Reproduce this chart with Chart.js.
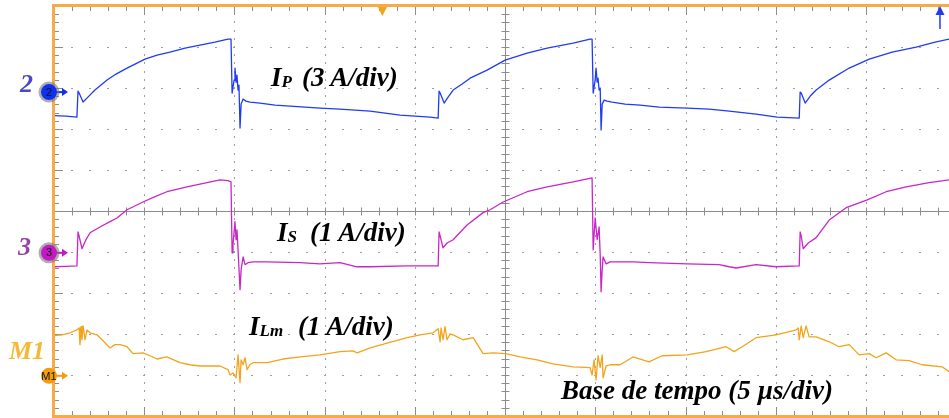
<!DOCTYPE html>
<html>
<head>
<meta charset="utf-8">
<script src="https://cdn.jsdelivr.net/npm/chart.js@4.4.1/dist/chart.umd.min.js"></script>
<style>
  html, body { margin: 0; padding: 0; background: #fff; overflow: hidden; }
  #scope { position: relative; width: 949px; height: 418px; }
  #scope canvas, #scope svg { position: absolute; left: 0; top: 0; }
  .lbl { font-family: "Liberation Serif", "Times New Roman", serif; font-weight: bold; font-style: italic; }
  .chip { font-family: "Liberation Sans", Arial, sans-serif; font-size: 11px; fill: #111; }
</style>
</head>
<body>
<div id="scope">
  <canvas id="wave" width="949" height="418"></canvas>
  <svg width="949" height="418" xmlns="http://www.w3.org/2000/svg">
    <!-- channel names on the left -->
    <text class="lbl" x="20" y="92" font-size="26" fill="#4a48c8">2</text>
    <text class="lbl" x="18" y="255" font-size="26" fill="#9444a6">3</text>
    <text class="lbl" x="9" y="359" font-size="26" fill="#f5b935">M1</text>
    <!-- ground marker captions -->
    <text class="chip" x="49" y="96" text-anchor="middle">2</text>
    <text class="chip" x="49" y="256" text-anchor="middle">3</text>
    <text class="chip" x="49" y="379.5" text-anchor="middle" font-size="10">M1</text>
    <!-- trace annotations -->
    <text class="lbl" x="271" y="86" font-size="27" fill="#000">I<tspan font-size="17" dy="1">P</tspan><tspan x="302" dy="-1">(3 A/div)</tspan></text>
    <text class="lbl" x="277" y="241" font-size="27" fill="#000">I<tspan font-size="17" dy="1">S</tspan><tspan x="310" dy="-1">(1 A/div)</tspan></text>
    <text class="lbl" x="249" y="335" font-size="27" fill="#000">I<tspan font-size="17" dy="1">Lm</tspan><tspan x="298" dy="-1">(1 A/div)</tspan></text>
    <text class="lbl" x="561" y="399" font-size="27" fill="#000">Base de tempo (5 µs/div)</text>
  </svg>
</div>
<script>
// time base: 5 us/div, screen shows a bit under 10 divisions
const xMax = 49.6;
const triggerTime = 18.2;

// channel 2: primary current I_P, 3 A/div
const ipOffset = 2.9;
const ipPerDiv = 3;
const ipTime = [
  0.00, 0.67, 1.27, 1.33, 1.39, 1.61, 1.88, 2.27, 2.94, 3.44, 3.94, 4.49, 5.04, 5.71, 6.43,
  7.26, 8.09, 8.92, 9.64, 9.81, 9.87, 9.98, 10.03, 10.09, 10.14, 10.20, 10.25, 10.31, 10.37,
  10.48, 10.64, 10.86, 11.42, 12.25, 13.08, 13.91, 14.74, 15.85, 16.68, 17.52, 18.35, 19.18,
  20.01, 20.84, 21.29,
  21.34, 21.40, 21.62, 21.84, 22.12, 22.62, 23.06, 24.00, 25.00, 26.22, 27.33, 28.77, 29.71,
  29.82, 29.88, 29.99, 30.04, 30.10, 30.15, 30.21, 30.27, 30.32, 30.38, 30.49, 30.65, 30.93,
  31.65, 32.48, 33.54, 35.09, 36.31, 37.42, 38.91, 40.08, 41.30,
  41.35, 41.41, 41.63, 41.91, 42.24, 42.96, 44.07, 45.18, 46.45, 47.78, 48.83, 49.61
];
const ipAmps = [
  -1.72, -1.76, -1.83, 0.07, -0.07, -0.73, -0.37, 0.15, 0.88, 1.32, 1.68, 2.05, 2.41, 2.71, 2.93,
  3.22, 3.44, 3.66, 3.88, 3.88, -0.07, 0.88, 1.76, 0.73, 1.24, 0.15, 0.51, -2.63, -0.88,
  -0.51, -0.66, -0.73, -0.80, -0.95, -1.02, -1.10, -1.17, -1.24, -1.32, -1.39, -1.54, -1.68,
  -1.76, -1.83, -1.90,
  0.07, -0.07, -0.80, -0.37, 0.15, 0.59, 1.02, 1.61, 2.34, 2.85, 3.22, 3.59, 3.88,
  3.88, -0.07, 0.88, 1.76, 0.73, 1.02, 0.15, 0.29, -2.78, -0.88, -0.59, -0.66, -0.73,
  -0.88, -0.95, -1.10, -1.17, -1.24, -1.39, -1.61, -1.83, -1.90,
  0.00, -0.07, -0.80, -0.29, 0.15, 0.88, 1.76, 2.41, 2.93, 3.29, 3.66, 3.88
];

// channel 3: secondary current I_S, 1 A/div
const isOffset = -1.02;
const isPerDiv = 1;
const isTime = [
  0.00, 0.67, 1.27, 1.33, 1.39, 1.55, 1.77, 2.00, 2.55, 3.10, 3.49, 4.05, 4.93, 5.60, 6.26,
  7.37, 8.48, 9.20, 9.64, 9.81, 9.87, 9.92, 10.03, 10.09, 10.14, 10.20, 10.31, 10.37, 10.48,
  10.59, 10.75, 11.03, 11.80, 13.63, 14.74, 15.85, 16.79, 17.52, 19.57, 21.29,
  21.34, 21.40, 21.56, 21.78, 22.12, 22.89, 23.78, 24.17, 24.89, 26.22, 27.33, 28.77, 29.82,
  29.88, 29.99, 30.10, 30.21, 30.27, 30.32, 30.38, 30.43, 30.60, 30.82, 32.10, 32.98, 35.09,
  36.86, 37.42, 37.80, 38.91, 40.02, 41.30,
  41.35, 41.41, 41.52, 41.80, 42.24, 42.96, 43.90, 45.07, 46.12, 47.23, 48.50, 49.61
];
const isAmps = [
  -0.34, -0.33, -0.32, 0.51, 0.41, 0.10, 0.32, 0.49, 0.63, 0.76, 0.85, 1.05, 1.24, 1.37, 1.49,
  1.61, 1.71, 1.78, 1.76, 1.73, 0.00, 0.20, 0.76, 0.32, 0.56, 0.07, -0.90, -0.41, -0.10,
  -0.29, -0.24, -0.22, -0.22, -0.24, -0.27, -0.24, -0.34, -0.34, -0.32, -0.32,
  0.51, 0.41, 0.12, 0.24, 0.32, 0.68, 0.98, 1.05, 1.24, 1.49, 1.61, 1.73, 1.83,
  0.07, 0.85, 0.32, 0.63, -0.05, -0.95, -0.41, -0.10, -0.27, -0.22, -0.22, -0.24, -0.27,
  -0.29, -0.34, -0.37, -0.29, -0.34, -0.32,
  0.51, 0.41, 0.10, 0.24, 0.37, 0.80, 1.10, 1.29, 1.49, 1.61, 1.71, 1.78
];

// math channel M1: magnetizing current I_Lm, 1 A/div
const lmOffset = -4.02;
const lmPerDiv = 1;
const lmTime = [
  0.00, 0.44, 0.89, 1.27, 1.39, 1.44, 1.50, 1.55, 1.61, 1.72, 1.83, 2.00, 2.38, 2.77, 3.10,
  3.38, 3.66, 4.05, 4.38, 4.93, 5.32, 5.71, 6.26, 6.98, 7.54, 8.09, 9.20, 9.64, 9.76, 9.92,
  10.09, 10.20, 10.31, 10.37, 10.48, 10.59, 10.70, 10.86, 11.03, 11.81, 12.69, 13.64, 14.74,
  15.85, 16.57, 16.80, 17.52, 18.46, 19.57, 20.29, 21.01, 21.29, 21.40, 21.45, 21.56, 21.67,
  21.78, 21.95, 22.12, 22.67, 23.23, 23.78, 24.33, 25.05, 25.83, 26.77, 27.66, 28.77, 29.71,
  29.82, 29.93, 30.04, 30.15, 30.27, 30.38, 30.43, 30.60, 30.82, 31.37, 32.09, 32.48, 32.98,
  33.70, 35.09, 36.14, 37.25, 37.69, 38.14, 38.91, 40.02, 41.13, 41.24, 41.30, 41.41, 41.52,
  41.68, 41.85, 42.24, 42.96, 43.51, 44.07, 44.62, 45.18, 45.56, 46.12, 46.67, 47.39, 48.11,
  49.22, 49.61
];
const lmAmps = [
  0.98, 1.00, 1.05, 1.12, 1.17, 0.76, 1.20, 0.88, 1.22, 0.88, 1.12, 1.05, 1.00, 0.83, 0.68,
  0.76, 0.76, 0.71, 0.54, 0.56, 0.49, 0.41, 0.46, 0.32, 0.27, 0.24, 0.24, 0.15, 0.02, 0.07,
  -0.05, 0.51, -0.17, 0.39, 0.27, 0.44, 0.15, 0.27, 0.32, 0.32, 0.41, 0.46, 0.51,
  0.59, 0.61, 0.56, 0.68, 0.80, 0.93, 1.00, 1.05, 1.15, 0.83, 1.17, 0.88, 1.20,
  0.88, 1.02, 1.00, 0.88, 0.93, 0.54, 0.56, 0.54, 0.46, 0.39, 0.29, 0.22, 0.20,
  0.02, 0.39, -0.10, 0.49, 0.20, 0.51, -0.05, 0.24, 0.27, 0.27, 0.46, 0.41, 0.34,
  0.49, 0.51, 0.59, 0.71, 0.59, 0.71, 0.93, 1.00, 1.12, 1.17, 0.88, 1.22, 0.93,
  1.22, 0.95, 0.95, 0.83, 0.71, 0.76, 0.51, 0.54, 0.44, 0.56, 0.39, 0.37, 0.27,
  0.22, 0.10
];

const ipColor = "#1f3cf2";
const isColor = "#c826c8";
const lmColor = "#f2a41c";
const frameColor = "#f6ab46";

function trace(times, amps, offset, perDiv) {
  return times.map((t, i) => ({ x: t, y: offset + amps[i] / perDiv }));
}

function line(ctx, x1, y1, x2, y2) {
  ctx.beginPath();
  ctx.moveTo(x1, y1);
  ctx.lineTo(x2, y2);
  ctx.stroke();
}

// graticule: dotted divisions, centre cross with ticks, ticks on the frame
const graticule = {
  id: "graticule",
  beforeDatasetsDraw(chart) {
    const { ctx, chartArea: a, scales: { x, y } } = chart;
    ctx.save();
    ctx.fillStyle = "#9e9e9e";
    for (let t = 5; t < xMax; t += 5) {
      if (t === 25) continue;
      const px = Math.round(x.getPixelForValue(t));
      for (let k = 1; k < 50; k++) {
        const py = Math.round(y.getPixelForValue(-5 + k * 0.2));
        ctx.fillRect(px, py - 1, 1, 2);
      }
    }
    for (let d = -4; d <= 4; d++) {
      if (d === 0) continue;
      const py = Math.round(y.getPixelForValue(d));
      for (let t = 1; t < xMax; t++) {
        const px = Math.round(x.getPixelForValue(t));
        ctx.fillRect(px - 1, py, 2, 1);
      }
    }

    const cx = Math.round(x.getPixelForValue(25)) + 0.5;
    const cy = Math.round(y.getPixelForValue(0)) + 0.5;
    ctx.strokeStyle = "#8c8c8c";
    ctx.lineWidth = 1;
    line(ctx, cx, a.top, cx, a.bottom);
    line(ctx, a.left, cy, a.right, cy);
    for (let k = 1; k < 50; k++) {
      const py = Math.round(y.getPixelForValue(-5 + k * 0.2)) + 0.5;
      line(ctx, cx - 4, py, cx + 4, py);
      const major = k % 5 === 0;
      line(ctx, a.left, py, a.left + (major ? 9 : 5), py);
    }
    for (let t = 1; t < xMax; t++) {
      const px = Math.round(x.getPixelForValue(t)) + 0.5;
      line(ctx, px, cy - 4, px, cy + 4);
      const len = t % 5 === 0 ? 9 : 5;
      line(ctx, px, a.top, px, a.top + len);
      line(ctx, px, a.bottom, px, a.bottom - len);
    }
    ctx.restore();
  },
  afterDatasetsDraw(chart) {
    const { ctx, chartArea: a, scales: { x, y } } = chart;
    ctx.save();
    ctx.strokeStyle = frameColor;
    ctx.lineWidth = 3;
    line(ctx, a.left - 0.5, a.top - 0.5, a.right, a.top - 0.5);
    line(ctx, a.left - 0.5, a.top - 2, a.left - 0.5, a.bottom + 2);
    line(ctx, a.left - 0.5, a.bottom + 0.5, a.right, a.bottom + 0.5);

    // trigger position
    const tx = x.getPixelForValue(triggerTime);
    ctx.fillStyle = lmColor;
    ctx.beginPath();
    ctx.moveTo(tx - 4.5, a.top + 1);
    ctx.lineTo(tx + 4.5, a.top + 1);
    ctx.lineTo(tx, a.top + 10);
    ctx.closePath();
    ctx.fill();

    // channel 2 off-screen indicator
    const ax = x.getPixelForValue(49.1);
    ctx.strokeStyle = ipColor;
    ctx.fillStyle = ipColor;
    ctx.lineWidth = 1.5;
    line(ctx, ax, a.top + 23, ax, a.top + 8);
    ctx.beginPath();
    ctx.moveTo(ax - 4.5, a.top + 9);
    ctx.lineTo(ax + 4.5, a.top + 9);
    ctx.lineTo(ax, a.top);
    ctx.closePath();
    ctx.fill();

    // ground reference markers
    const marks = [
      [ipOffset, "#1030f0", true],
      [isOffset, "#c418c4", true],
      [lmOffset, "#f59c0c", false]
    ];
    marks.forEach(([off, color, halo]) => {
      const my = y.getPixelForValue(off);
      const mx = 49;
      ctx.strokeStyle = color;
      ctx.fillStyle = color;
      ctx.lineWidth = 2;
      line(ctx, mx + 6, my, mx + 14, my);
      ctx.beginPath();
      ctx.moveTo(mx + 19, my);
      ctx.lineTo(mx + 13, my - 4);
      ctx.lineTo(mx + 13, my + 4);
      ctx.closePath();
      ctx.fill();
      if (halo) {
        ctx.fillStyle = "rgba(120,120,120,0.6)";
        ctx.beginPath();
        ctx.arc(mx, my, 10.5, 0, Math.PI * 2);
        ctx.fill();
      }
      ctx.fillStyle = color;
      ctx.beginPath();
      ctx.arc(mx, my, 8, 0, Math.PI * 2);
      ctx.fill();
    });
    ctx.restore();
  }
};

new Chart(document.getElementById("wave"), {
  type: "line",
  data: {
    datasets: [
      { label: "I_P", data: trace(ipTime, ipAmps, ipOffset, ipPerDiv), borderColor: ipColor },
      { label: "I_S", data: trace(isTime, isAmps, isOffset, isPerDiv), borderColor: isColor },
      { label: "I_Lm", data: trace(lmTime, lmAmps, lmOffset, lmPerDiv), borderColor: lmColor }
    ]
  },
  options: {
    responsive: false,
    animation: false,
    devicePixelRatio: 1,
    layout: { padding: { left: 54, top: 6, right: 0, bottom: 2 } },
    elements: {
      point: { radius: 0 },
      line: { borderWidth: 1.3, tension: 0, borderJoinStyle: "round", fill: false }
    },
    scales: {
      x: { type: "linear", min: 0, max: xMax, display: false },
      y: { type: "linear", min: -5, max: 5, display: false }
    },
    plugins: { legend: { display: false }, tooltip: { enabled: false } }
  },
  plugins: [graticule]
});
</script>
</body>
</html>
